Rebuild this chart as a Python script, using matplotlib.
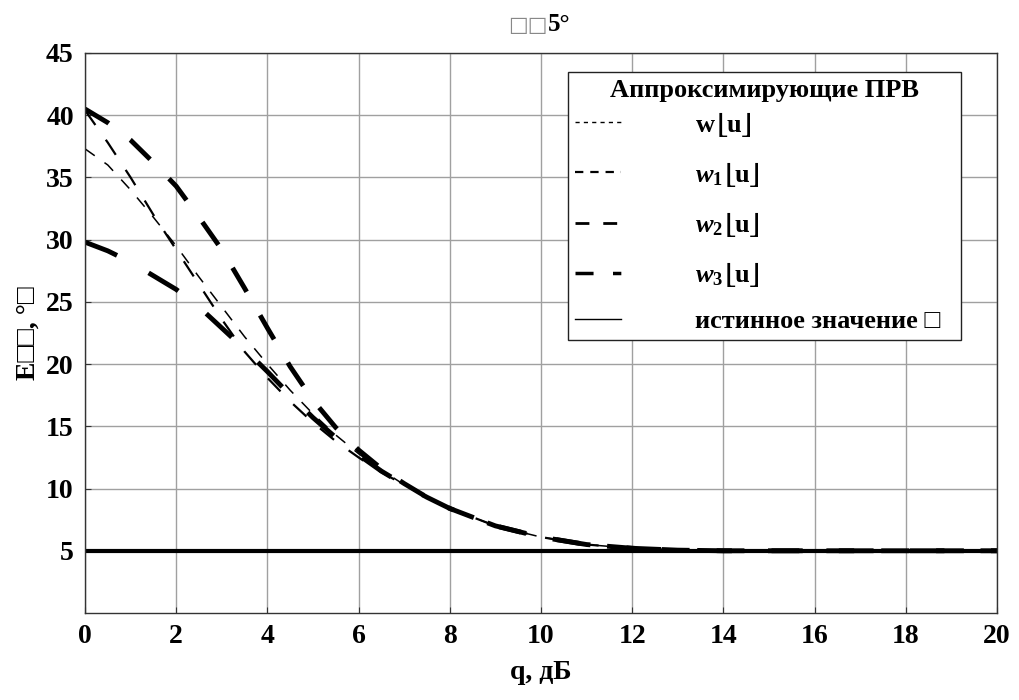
import numpy as np
import matplotlib
matplotlib.use('Agg')
import matplotlib.pyplot as plt
from matplotlib.lines import Line2D

plt.rcParams['font.family'] = ['Liberation Serif', 'DejaVu Sans']
plt.rcParams['font.weight'] = 'bold'
plt.rcParams['mathtext.fontset'] = 'custom'
plt.rcParams['mathtext.it'] = 'Liberation Serif:italic:bold'
plt.rcParams['mathtext.rm'] = 'Liberation Serif:bold'
plt.rcParams['mathtext.fallback'] = 'stix'
plt.rcParams['lines.scale_dashes'] = False

# signal-to-noise ratio, dB
q = [0, 0.5, 1, 1.5, 2, 2.5, 3, 3.5, 4, 4.5, 5, 5.5, 6, 6.5, 7, 7.5, 8,
     9, 10, 11, 12, 13, 14, 15, 16, 17, 18, 19, 20]
tail = [7.0, 6.1, 5.5, 5.2, 5.05, 5.0, 5.0, 5.0, 5.0, 5.0, 5.0, 5.0]
w_exact = [37.3, 36.0, 34.0, 31.8, 29.5, 27.0, 24.6, 22.2, 20.0, 17.9, 16.0,
           14.3, 12.8, 11.5, 10.3, 9.3, 8.4] + tail
w1 = [40.4, 37.8, 35.0, 32.0, 29.2, 26.4, 23.6, 21.0, 18.9, 17.0, 15.3,
      13.8, 12.5, 11.3, 10.3, 9.3, 8.4] + tail
w2 = [40.5, 39.4, 38.0, 36.2, 34.3, 31.8, 29.2, 26.1, 22.9, 19.8, 17.1,
      14.9, 13.1, 11.6, 10.4, 9.3, 8.4] + tail
w3 = [29.8, 29.1, 28.2, 27.1, 26.0, 24.6, 22.9, 21.2, 19.4, 17.5, 15.7,
      14.1, 12.7, 11.4, 10.3, 9.3, 8.4] + tail
true_value = 5.0

labels = [r'w$\lfloor$u$\rfloor$', r'$w_1\lfloor$u$\rfloor$',
          r'$w_2\lfloor$u$\rfloor$', r'$w_3\lfloor$u$\rfloor$',
          'истинное значение □']

fig = plt.figure(figsize=(10.19, 7.0), dpi=100)
ax = fig.add_axes([0.0834, 0.1243, 0.8950, 0.8000])

ax.plot(q, w_exact, color='black', lw=1.1, dashes=(8.6, 8.6))
ax.plot(q, w1, color='black', lw=1.6, dashes=(13, 13))
ax.plot(q, w2, color='black', lw=3.5, dashes=(20, 19.5))
ax.plot(q, w3, color='black', lw=3.5, dashes=(25, 26))
ax.axhline(true_value, color='black', lw=3.0)

ax.set_xlim(0, 20)
ax.set_ylim(0, 45)
ax.set_xticks(np.arange(0, 21, 2))
ax.set_yticks(np.arange(5, 46, 5))
ax.tick_params(direction='in', length=4, width=0.8, labelsize=20, pad=8,
               colors='#333333', labelcolor='black')
for lbl in ax.get_xticklabels() + ax.get_yticklabels():
    lbl.set_fontweight('bold')
ax.grid(True, color='#a0a0a0', lw=1.0)
for s in ax.spines.values():
    s.set_color('#333333')
    s.set_linewidth(1.0)

ax.set_xlabel('q, дБ', fontsize=20, fontweight='bold', labelpad=8)
ax.set_ylabel('E□□, °□', fontsize=20, fontweight='bold', labelpad=4)

fig.text(0.5378, 0.965, '□□', color='#888888', fontsize=15, ha='right',
         va='center', family='DejaVu Sans')
fig.text(0.5378, 0.965, '5°', color='black', fontsize=18, ha='left',
         va='center', fontweight='bold')

handles = [
    Line2D([], [], color='black', lw=1.0, dashes=(3, 3)),
    Line2D([], [], color='black', lw=1.6, dashes=(6, 5)),
    Line2D([], [], color='black', lw=2.0, dashes=(10, 10)),
    Line2D([], [], color='black', lw=2.5, dashes=(13, 14, 6, 100)),
    Line2D([], [], color='black', lw=1.0),
]
leg = ax.legend(handles, labels, title='Аппроксимирующие ПРВ',
                loc='upper left', bbox_to_anchor=(0.5296, 0.468, 0.4309, 0.498),
                mode='expand', borderaxespad=0, fontsize=19,
                title_fontproperties={'size': 19, 'weight': 'bold'},
                handlelength=1.75, handletextpad=2.8, labelspacing=0.8,
                borderpad=0.25, fancybox=False, framealpha=1,
                edgecolor='#222222')
leg.get_frame().set_linewidth(1.0)
# tighter gap between the legend title and its first row
leg._legend_box.sep = 19 * 0.3

fig.savefig('out.png', dpi=100)
